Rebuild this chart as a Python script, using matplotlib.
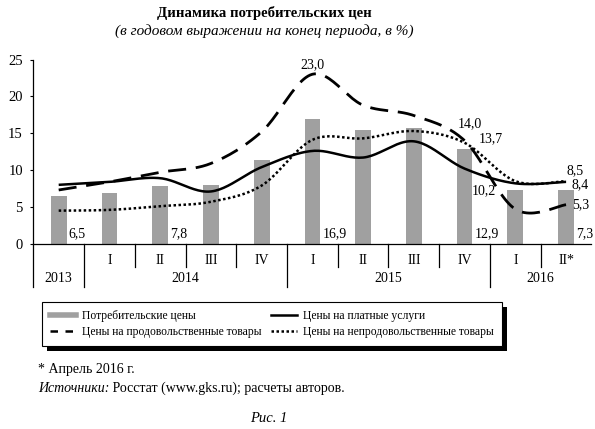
import numpy as np
import matplotlib
matplotlib.use("Agg")
import matplotlib.pyplot as plt
from matplotlib.lines import Line2D
from matplotlib.patches import Rectangle
import matplotlib.transforms as mtransforms

plt.rcParams['font.family'] = ['Liberation Serif', 'DejaVu Serif']

# ---------------- data ----------------
quarters = ["", "I", "II", "III", "IV", "I", "II", "III", "IV", "I", "II*"]
years = ["2013", "2014", "2015", "2016"]
year_span = [(0, 0), (1, 4), (5, 8), (9, 10)]
cpi = [6.5, 6.9, 7.8, 8.0, 11.4, 16.9, 15.4, 15.7, 12.9, 7.3, 7.3]
services = [8.0, 8.4, 8.9, 7.1, 10.4, 12.6, 11.7, 13.9, 10.2, 8.2, 8.4]
food = [7.3, 8.4, 9.7, 10.9, 15.2, 23.0, 18.8, 17.4, 14.0, 4.7, 5.3]
nonfood = [4.5, 4.6, 5.1, 5.7, 7.9, 14.1, 14.3, 15.3, 13.7, 8.5, 8.5]

bar_labels = {0: "6,5", 2: "7,8", 5: "16,9", 8: "12,9", 10: "7,3"}

names = ["Потребительские цены", "Цены на продовольственные товары",
         "Цены на платные услуги", "Цены на непродовольственные товары"]

BAR = "#a0a0a0"


def smooth(y, n=24):
    """Catmull-Rom smoothing (like Excel's smoothed line) through the points."""
    y = np.asarray(y, float)
    x = np.arange(len(y), dtype=float)
    px = np.concatenate([[x[0]], x, [x[-1]]])
    py = np.concatenate([[y[0]], y, [y[-1]]])
    xs, ys = [], []
    for i in range(1, len(px) - 2):
        t = np.linspace(0, 1, n, endpoint=False)
        for arr, out in ((px, xs), (py, ys)):
            p0, p1, p2, p3 = arr[i - 1], arr[i], arr[i + 1], arr[i + 2]
            out.append(0.5 * ((2 * p1) + (-p0 + p2) * t
                              + (2 * p0 - 5 * p1 + 4 * p2 - p3) * t ** 2
                              + (-p0 + 3 * p1 - 3 * p2 + p3) * t ** 3))
    xs = np.concatenate(xs + [[x[-1]]])
    ys = np.concatenate(ys + [[y[-1]]])
    return xs, ys


fig = plt.figure(figsize=(5.95, 4.29), dpi=100)
ax = fig.add_axes([0.056, 0.4317, 0.938, 0.4296])

x = np.arange(len(cpi))
ax.bar(x, cpi, width=0.31, color=BAR, zorder=1)

lw = 1.8
xs, ys = smooth(services)
ax.plot(xs, ys, color="black", lw=lw, solid_capstyle="butt", zorder=3)
xs, ys = smooth(food)
ax.plot(xs, ys, color="black", lw=lw + 0.2, dashes=(6.5, 3.5), zorder=3)
xs, ys = smooth(nonfood)
ax.plot(xs, ys, color="black", lw=lw, dashes=(1.0, 1.0), zorder=3)

ax.set_xlim(-0.5, len(cpi) - 0.5)
ax.set_ylim(0, 25)
ax.set_yticks([0, 5, 10, 15, 20, 25])
ax.tick_params(axis="y", direction="out", length=2.5, width=0.8, pad=5,
               labelsize=10.5)
ax.set_xticks([])
for s in ("top", "right"):
    ax.spines[s].set_visible(False)
ax.spines["left"].set_linewidth(0.9)
ax.spines["bottom"].set_linewidth(0.9)

fs = 10
for i, t in bar_labels.items():
    ax.text(i + 0.2, 1.35, t, ha="left", va="center", fontsize=fs)

ax.text(5.0, 24.3, "23,0", ha="center", va="center", fontsize=fs)
ax.text(7.86, 16.3, "14,0", ha="left", va="center", fontsize=fs)
ax.text(8.27, 14.3, "13,7", ha="left", va="center", fontsize=fs)
ax.text(8.37, 7.2, "10,2", ha="center", va="center", fontsize=fs)
ax.text(10.17, 9.95, "8,5", ha="center", va="center", fontsize=fs)
ax.text(10.27, 8.05, "8,4", ha="center", va="center", fontsize=fs)
ax.text(10.28, 5.3, "5,3", ha="center", va="center", fontsize=fs)

# category axis (two rows)
trans = mtransforms.blended_transform_factory(ax.transData, ax.transAxes)
y_short, y_full = -0.124, -0.233
ax.plot([-0.5, -0.5], [0, y_full], transform=trans, color="black", lw=0.9,
        clip_on=False)
year_bounds = {e + 0.5 for (_, e) in year_span[:-1]}
for i in range(len(cpi) - 1):
    b = i + 0.5
    yb = y_full if b in year_bounds else y_short
    ax.plot([b, b], [0, yb], transform=trans, color="black", lw=0.9,
            clip_on=False)
for i, q in enumerate(quarters):
    if q:
        ax.text(i, -0.092, q, transform=trans, ha="center", va="center",
                fontsize=10)
for yname, (s, e) in zip(years, year_span):
    ax.text((s + e) / 2, -0.188, yname, transform=trans, ha="center",
            va="center", fontsize=10)

# titles
fig.text(0.4437, 0.9697, "Динамика потребительских цен", ha="center",
         va="center", fontsize=10.6, fontweight="bold")
fig.text(0.4437, 0.9277, "(в годовом выражении на конец периода, в %)",
         ha="center", va="center", fontsize=11, style="italic")

# legend
handles = [Line2D([], [], color=BAR, lw=4),
           Line2D([], [], color="black", lw=lw, dashes=(3, 3)),
           Line2D([], [], color="black", lw=lw),
           Line2D([], [], color="black", lw=lw, dashes=(1.0, 1.0))]
leg = fig.legend(handles, names, ncol=2, loc="upper left",
                 bbox_to_anchor=(42 / 595, 1 - 302 / 429),
                 frameon=True, fancybox=False, fontsize=8.4,
                 handlelength=2.2, handletextpad=0.5, columnspacing=0.85,
                 labelspacing=0.35, borderpad=0.7, borderaxespad=0,
                 framealpha=1)
leg.get_frame().set_edgecolor("black")
leg.get_frame().set_facecolor("white")
leg.get_frame().set_linewidth(0.8)
leg.set_zorder(5)

fig.canvas.draw()
bb = leg.get_window_extent()
shadow = Rectangle((bb.x0 + 5, bb.y0 - 5), bb.width, bb.height,
                   transform=None, facecolor="black", edgecolor="none",
                   zorder=4)
fig.add_artist(shadow)

# notes
fig.text(38 / 595, 1 - 370 / 429, "* Апрель 2016 г.", ha="left",
         va="center", fontsize=10)
t1 = fig.text(38 / 595, 1 - 388 / 429, "Источники:", ha="left",
              va="center", fontsize=10, style="italic")
ax.annotate(" Росстат (www.gks.ru); расчеты авторов.", xy=(1, 0.5),
            xycoords=t1, ha="left", va="center", fontsize=10,
            annotation_clip=False)
fig.text(269 / 595, 1 - 418 / 429, "Рис. 1", ha="center", va="center",
         fontsize=10.5, style="italic")

fig.savefig("out.png", dpi=100)
